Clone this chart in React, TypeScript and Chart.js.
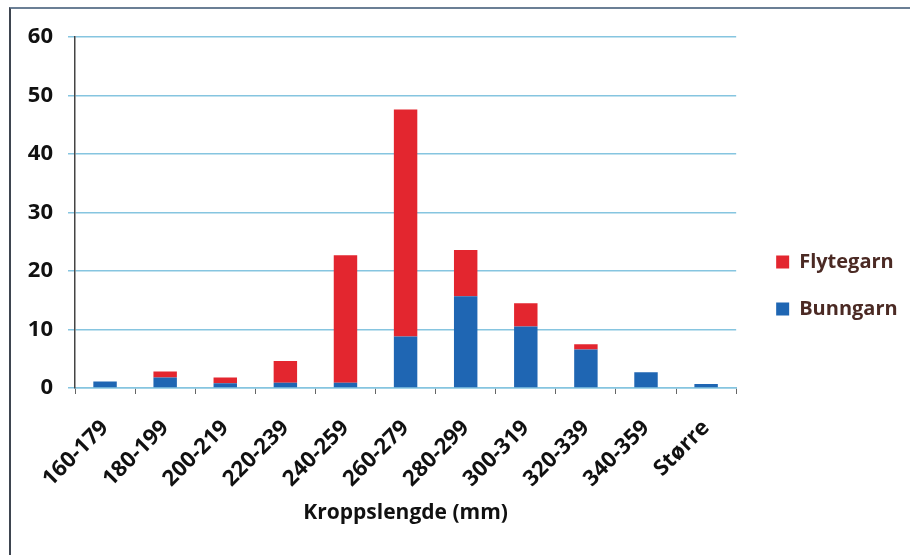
import React, { useEffect, useRef } from 'react';
import { Chart, registerables } from 'chart.js';

Chart.register(...registerables);

const categories = ['160-179', '180-199', '200-219', '220-239', '240-259', '260-279', '280-299', '300-319', '320-339', '340-359', 'Større'];
const bunngarn = [1.1, 1.8, 0.8, 0.9, 0.9, 8.8, 15.7, 10.5, 6.6, 2.7, 0.7];
const flytegarn = [0, 1.0, 1.0, 3.7, 21.8, 38.8, 7.9, 4.0, 0.9, 0, 0];
const seriesNames = ['Bunngarn', 'Flytegarn'];
const yMin = 0;
const yMax = 60;
const yStep = 10;
const xTitle = 'Kroppslengde (mm)';

const FONT = '"Open Sans", "DejaVu Sans", sans-serif';

export default function App() {
  const ref = useRef<HTMLCanvasElement | null>(null);

  useEffect(() => {
    if (!ref.current) return;
    const chart = new Chart(ref.current, {
      type: 'bar',
      data: {
        labels: categories,
        datasets: [
          {
            label: seriesNames[0],
            data: bunngarn,
            backgroundColor: '#1f66b3',
            borderWidth: 0,
            barPercentage: 0.39,
            categoryPercentage: 1,
          },
          {
            label: seriesNames[1],
            data: flytegarn,
            backgroundColor: '#e3262f',
            borderWidth: 0,
            barPercentage: 0.39,
            categoryPercentage: 1,
          },
        ],
      },
      options: {
        responsive: false,
        animation: false,
        layout: { padding: { top: 37, bottom: 21, left: 0, right: 11 } },
        plugins: {
          tooltip: { enabled: false },
          legend: {
            position: 'right',
            reverse: true,
            labels: {
              boxWidth: 13,
              boxHeight: 13,
              padding: 27,
              color: '#4b2a24',
              font: { family: FONT, size: 20, weight: 'bold' },
            },
          },
        },
        scales: {
          x: {
            stacked: true,
            grid: {
              display: true,
              drawOnChartArea: false,
              drawTicks: true,
              tickLength: 6,
              tickColor: '#666',
            },
            border: { display: true, color: '#86c5e0', width: 1.5 },
            ticks: {
              autoSkip: false,
              minRotation: 45,
              maxRotation: 45,
              padding: 21,
              color: '#111',
              font: { family: FONT, size: 22, weight: 'bold' },
            },
            title: {
              display: true,
              text: xTitle,
              color: '#111',
              padding: { top: 0, bottom: 8 },
              font: { family: FONT, size: 21, weight: 'bold' },
            },
            afterFit: (s: any) => {
              s.height = 146;
            },
          },
          y: {
            stacked: true,
            min: yMin,
            max: yMax,
            ticks: {
              stepSize: yStep,
              padding: 15,
              color: '#111',
              font: { family: FONT, size: 22, weight: 'bold' },
            },
            grid: {
              color: '#86c5e0',
              lineWidth: 1.5,
              tickLength: 7,
              tickColor: '#86c5e0',
            },
            border: { display: true, color: '#444', width: 1.5 },
            afterFit: (s: any) => {
              s.width = 75;
            },
          },
          y2: {
            position: 'right',
            display: true,
            grid: { display: false, drawTicks: false },
            border: { display: false },
            ticks: { display: false },
            afterFit: (s: any) => {
              s.width = 13;
            },
          },
        },
      },
    });
    return () => chart.destroy();
  }, []);

  return (
    <div style={{ position: 'absolute', left: 0, top: 0, width: 910, height: 555, background: '#fff' }}>
      <div
        style={{
          position: 'absolute',
          left: 9,
          top: 7,
          width: 910,
          height: 560,
          borderLeft: '2px solid #3e4550',
          borderTop: '2px solid #6b7f95',
        }}
      />
      <canvas ref={ref} width={910} height={555} style={{ position: 'absolute', left: 0, top: 0 }} />
    </div>
  );
}
